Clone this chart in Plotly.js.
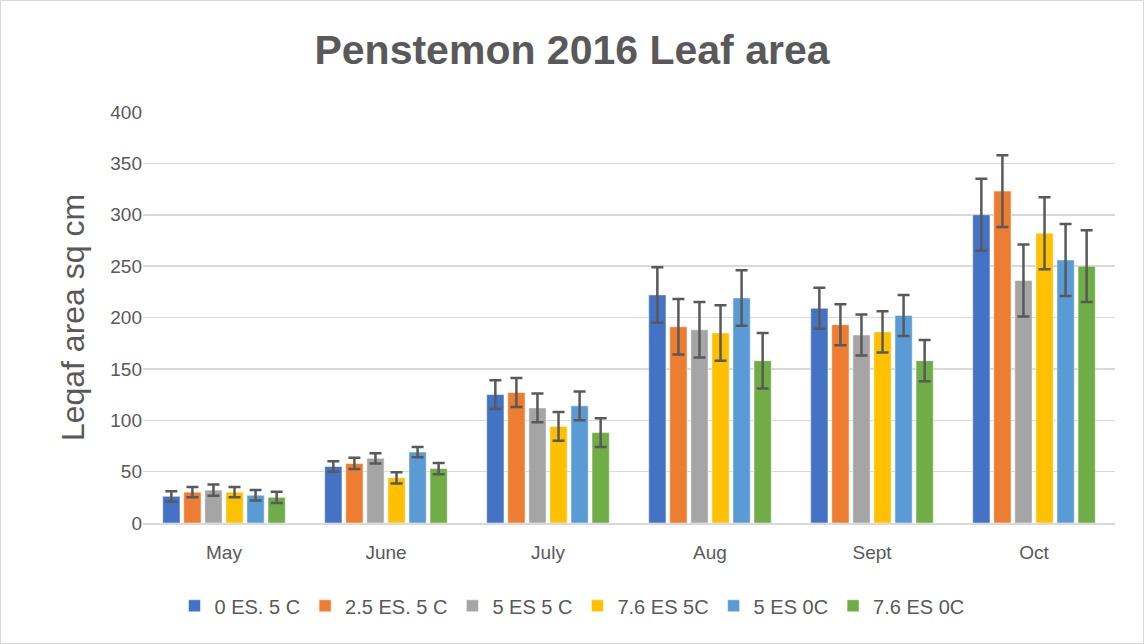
<!DOCTYPE html>
<html>
<head>
<meta charset="utf-8">
<script src="https://cdn.plot.ly/plotly-3.0.1.min.js"></script>
<style>
html,body{margin:0;padding:0;background:#fff;}
#chart{width:1142px;height:642px;border:1px solid #d9d9d9;}
</style>
</head>
<body>
<div id="chart"></div>
<script>
const months = ["May", "June", "July", "Aug", "Sept", "Oct"];
const seriesNames = ["0 ES. 5 C", "2.5 ES. 5 C", "5 ES 5 C", "7.6 ES 5C", "5 ES 0C", "7.6 ES 0C"];
const colors = ["#4472C4", "#ED7D31", "#A5A5A5", "#FFC000", "#5B9BD5", "#70AD47"];

const s0 = [26, 55, 125, 222, 209, 300];
const s1 = [30, 58, 127, 191, 193, 323];
const s2 = [32, 63, 112, 188, 183, 236];
const s3 = [30, 44, 94, 185, 186, 282];
const s4 = [27, 69, 114, 219, 202, 256];
const s5 = [25, 53, 88, 158, 158, 250];

const e0 = [5, 5, 14, 27, 20, 35];
const e1 = [5, 5.5, 14, 27, 20, 35];
const e2 = [5.5, 5, 14, 27, 20, 35];
const e3 = [5, 5.5, 14, 27, 20, 35];
const e4 = [5, 5, 14, 27, 20, 35];
const e5 = [5.5, 5.5, 14, 27, 20, 35];

const values = [s0, s1, s2, s3, s4, s5];
const errors = [e0, e1, e2, e3, e4, e5];
const yTicks = [0, 50, 100, 150, 200, 250, 300, 350, 400];

const font = "Liberation Sans, Arial, sans-serif";
const textColor = "#595959";

const data = values.map((v, i) => ({
  type: "bar",
  name: seriesNames[i],
  x: months,
  y: v,
  marker: {color: colors[i], line: {color: "#ffffff", width: 0.5}},
  error_y: {type: "data", array: errors[i], visible: true, color: "#595959", thickness: 2.5, width: 6}
}));

const layout = {
  width: 1142,
  height: 642,
  paper_bgcolor: "#ffffff",
  plot_bgcolor: "#ffffff",
  margin: {l: 142, r: 28, t: 111, b: 120},
  barmode: "group",
  bargap: 0.22,
  bargroupgap: 0.18,
  title: {
    text: "<b>Penstemon 2016 Leaf area</b>",
    font: {family: font, size: 41, color: textColor},
    x: 0.5, xanchor: "center", y: 0.925, yanchor: "middle"
  },
  xaxis: {
    type: "category",
    tickfont: {family: font, size: 19, color: textColor},
    ticklabelstandoff: 12,
    showgrid: false,
    showline: true,
    linecolor: "#d9d9d9",
    linewidth: 1.5,
    ticks: "",
    ticklen: 0
  },
  yaxis: {
    range: [0, 400],
    tickvals: yTicks,
    ticktext: yTicks.map(String),
    tickfont: {family: font, size: 19, color: textColor},
    showgrid: true,
    gridcolor: "#d9d9d9",
    gridwidth: 1.5,
    zeroline: false,
    showline: false,
    ticks: "",
    title: {text: "Leqaf area sq cm", font: {family: font, size: 32, color: textColor}, standoff: 16}
  },
  legend: {
    orientation: "h",
    xref: "container",
    x: 0.5, xanchor: "center",
    yref: "container",
    y: 0.058, yanchor: "middle",
    font: {family: font, size: 20, color: textColor},
    itemwidth: 20,
    tracegroupgap: 0
  },
  showlegend: true
};

Plotly.newPlot("chart", data, layout, {displayModeBar: false, staticPlot: true});
</script>
</body>
</html>
